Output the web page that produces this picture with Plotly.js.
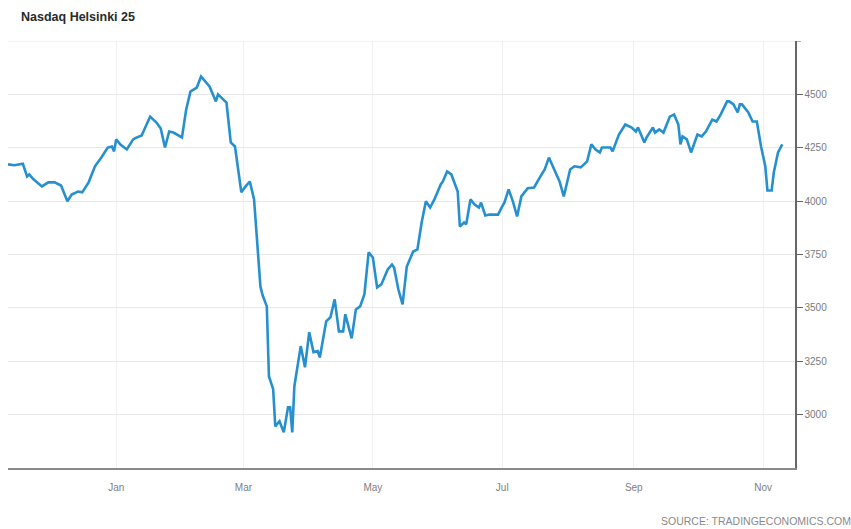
<!DOCTYPE html>
<html>
<head>
<meta charset="utf-8">
<script src="https://cdn.plot.ly/plotly-3.0.1.min.js"></script>
<style>html,body{margin:0;padding:0;background:#fff;}#chart{width:851px;height:529px;}</style>
</head>
<body>
<div id="chart"></div>
<script>
const dates = [
"2019-11-11","2019-11-14","2019-11-18","2019-11-20","2019-11-21","2019-11-23","2019-11-27","2019-11-30",
"2019-12-03","2019-12-06","2019-12-09","2019-12-11","2019-12-14","2019-12-16","2019-12-19","2019-12-22",
"2019-12-25","2019-12-28","2019-12-30","2019-12-31","2020-01-01","2020-01-03","2020-01-06","2020-01-09",
"2020-01-10","2020-01-13","2020-01-17","2020-01-20","2020-01-22","2020-01-24","2020-01-26","2020-01-28",
"2020-02-01","2020-02-03","2020-02-05","2020-02-08","2020-02-10","2020-02-12","2020-02-14","2020-02-17",
"2020-02-18","2020-02-22","2020-02-24","2020-02-26","2020-02-29","2020-03-02","2020-03-04","2020-03-06",
"2020-03-09","2020-03-10","2020-03-12","2020-03-13","2020-03-15","2020-03-16","2020-03-18","2020-03-20",
"2020-03-22","2020-03-23","2020-03-24","2020-03-25","2020-03-28","2020-03-30","2020-04-01","2020-04-03",
"2020-04-05","2020-04-06","2020-04-09","2020-04-11","2020-04-13","2020-04-15","2020-04-17","2020-04-18",
"2020-04-21","2020-04-23","2020-04-25","2020-04-27","2020-04-29","2020-05-01","2020-05-03","2020-05-05",
"2020-05-08","2020-05-10","2020-05-11","2020-05-13","2020-05-15","2020-05-17","2020-05-20","2020-05-22",
"2020-05-24","2020-05-26","2020-05-28","2020-05-30","2020-06-02","2020-06-03","2020-06-05","2020-06-07",
"2020-06-10","2020-06-11","2020-06-13","2020-06-14","2020-06-16","2020-06-18","2020-06-20","2020-06-21",
"2020-06-23","2020-06-25","2020-06-29","2020-07-01","2020-07-02","2020-07-04","2020-07-06","2020-07-08",
"2020-07-10","2020-07-13","2020-07-16","2020-07-19","2020-07-21","2020-07-23","2020-07-26","2020-07-28",
"2020-07-30","2020-08-02","2020-08-04","2020-08-07","2020-08-10","2020-08-12","2020-08-14","2020-08-16",
"2020-08-17","2020-08-21","2020-08-22","2020-08-25","2020-08-28","2020-08-31","2020-09-02","2020-09-03",
"2020-09-06","2020-09-07","2020-09-10","2020-09-11","2020-09-13","2020-09-15","2020-09-18","2020-09-20",
"2020-09-22","2020-09-23","2020-09-24","2020-09-26","2020-09-28","2020-10-01","2020-10-03","2020-10-05",
"2020-10-08","2020-10-10","2020-10-12","2020-10-15","2020-10-16","2020-10-18","2020-10-20","2020-10-21",
"2020-10-22","2020-10-25","2020-10-27","2020-10-29","2020-10-31","2020-11-02","2020-11-03","2020-11-05",
"2020-11-06","2020-11-08","2020-11-10"
];
const values = [
4172,4168,4175,4116,4125,4102,4069,4088,
4088,4073,3999,4031,4045,4041,4088,4163,
4204,4251,4256,4233,4289,4265,4242,4289,
4295,4307,4396,4368,4340,4251,4326,4321,
4298,4429,4513,4532,4584,4560,4537,4467,
4500,4462,4275,4256,4041,4069,4092,4008,
3600,3560,3507,3180,3119,2945,2969,2917,
3034,3034,2917,3133,3321,3222,3386,3293,
3298,3268,3437,3456,3540,3390,3390,3470,
3357,3493,3507,3563,3760,3736,3596,3610,
3680,3703,3689,3587,3516,3694,3764,3774,
3900,3999,3970,4008,4078,4092,4139,4125,
4045,3881,3900,3891,4008,3984,3970,3993,
3933,3937,3937,3975,3993,4055,3999,3928,
4022,4060,4064,4116,4148,4204,4139,4092,
4022,4148,4163,4158,4186,4266,4242,4228,
4251,4251,4233,4312,4359,4345,4326,4345,
4275,4298,4345,4321,4336,4321,4396,4406,
4359,4266,4303,4289,4228,4312,4303,4326,
4382,4373,4406,4467,4467,4453,4415,4453,
4453,4415,4373,4373,4256,4163,4050,4050,
4134,4228,4266
];
const yTicks = [3000, 3250, 3500, 3750, 4000, 4250, 4500];
const xTickVals = ["2020-01-01","2020-03-01","2020-05-01","2020-07-01","2020-09-01","2020-11-01"];
const xTickText = ["Jan","Mar","May","Jul","Sep","Nov"];
const chartTitle = "Nasdaq Helsinki 25";
const sourceText = "SOURCE: TRADINGECONOMICS.COM";

const trace = {
  x: dates, y: values, type: "scatter", mode: "lines",
  line: {color: "#2690cf", width: 2.6, shape: "linear"},
  hoverinfo: "skip"
};

const layout = {
  width: 851, height: 529,
  margin: {l: 8, r: 56, t: 41, b: 61, pad: 0},
  paper_bgcolor: "#ffffff", plot_bgcolor: "#ffffff",
  showlegend: false,
  font: {family: "Liberation Sans, Arial, sans-serif", color: "#666"},
  xaxis: {
    type: "date",
    range: ["2019-11-11", "2020-11-16"],
    tickvals: xTickVals, ticktext: xTickText,
    showgrid: true, gridcolor: "#f0f0f0", gridwidth: 1,
    showline: true, linecolor: "#8a8a8a", linewidth: 2,
    ticks: "", ticklabelstandoff: 9,
    tickfont: {size: 10, color: "#808080"},
    zeroline: false, fixedrange: true
  },
  yaxis: {
    side: "right",
    range: [2750, 4750],
    tickvals: yTicks,
    showgrid: true, gridcolor: "#e8e8e8", gridwidth: 1,
    showline: true, linecolor: "#666", linewidth: 1.5,
    ticks: "outside", ticklen: 6, tickcolor: "#666", tickwidth: 1,
    tickfont: {size: 10, color: "#7a7a7a"},
    zeroline: false, fixedrange: true
  },
  shapes: [
    {type: "line", xref: "paper", yref: "y", x0: 0, x1: 1, y0: 4750, y1: 4750,
     line: {color: "#e8e8e8", width: 1}},
    {type: "line", xref: "paper", yref: "y", x0: 1, x1: 1.0076, y0: 4750, y1: 4750,
     line: {color: "#666", width: 1}}
  ],
  annotations: [
    {text: chartTitle, xref: "paper", yref: "paper", x: 0, xshift: 11, y: 1, yshift: 24,
     xanchor: "left", yanchor: "middle", showarrow: false,
     font: {size: 12.5, color: "#2a2a2a", family: "Liberation Sans, Arial, sans-serif", weight: 600}},
    {text: sourceText, xref: "paper", yref: "paper", x: 1, xshift: 58, y: 0, yshift: -53,
     xanchor: "right", yanchor: "middle", showarrow: false,
     font: {size: 10.5, color: "#8a8a8a", family: "Liberation Sans, Arial, sans-serif"}}
  ]
};

Plotly.newPlot("chart", [trace], layout, {displayModeBar: false, staticPlot: true});
</script>
</body>
</html>
